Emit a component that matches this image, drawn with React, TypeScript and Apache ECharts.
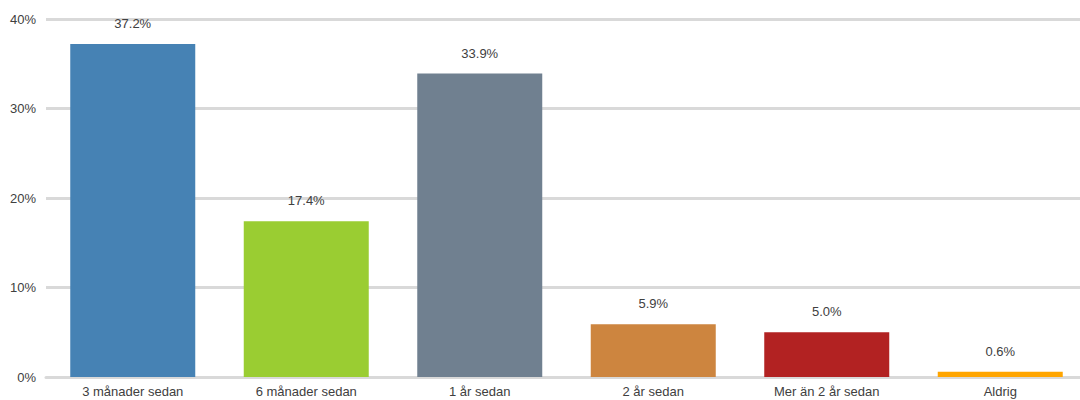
import React, { useEffect, useRef } from "react";
import * as echarts from "echarts";

const categories = ["3 månader sedan", "6 månader sedan", "1 år sedan", "2 år sedan", "Mer än 2 år sedan", "Aldrig"];
const values = [37.2, 17.4, 33.9, 5.9, 5.0, 0.6];
const colors = ["#4682B4", "#9ACD32", "#708090", "#CD853F", "#B22222", "#FFA500"];
const yTicks = [0, 10, 20, 30, 40];

export default function App() {
  const ref = useRef<HTMLDivElement>(null);
  useEffect(() => {
    if (!ref.current) return;
    const chart = echarts.init(ref.current, undefined, { renderer: "svg" });
    const font = "'Liberation Sans', Arial, sans-serif";
    chart.setOption({
      animation: false,
      grid: { left: 46, right: 3, top: 19, bottom: 23, containLabel: false },
      xAxis: {
        type: "category",
        data: categories,
        axisLine: { show: true, lineStyle: { color: "#d9d9d9", width: 3 } },
        axisTick: { show: false },
        axisLabel: { color: "#404040", fontSize: 13, fontFamily: font, margin: 8, interval: 0 },
      },
      yAxis: {
        type: "value",
        min: yTicks[0],
        max: yTicks[yTicks.length - 1],
        interval: 10,
        axisLine: { show: false },
        axisTick: { show: false },
        axisLabel: { color: "#404040", fontSize: 13, fontFamily: font, margin: 10, formatter: "{value}%" },
        splitLine: { lineStyle: { color: "#d9d9d9", width: 3 } },
      },
      series: [
        {
          type: "bar",
          barWidth: 125,
          data: values.map((v, i) => ({ value: v, itemStyle: { color: colors[i] } })),
          label: {
            show: true,
            position: "top",
            distance: 14,
            color: "#404040",
            fontSize: 13,
            fontFamily: font,
            formatter: (p: any) => p.value.toFixed(1) + "%",
          },
        },
      ],
    });
    return () => chart.dispose();
  }, []);
  return (
    <div style={{ position: "fixed", left: 0, top: 0, width: 1080, height: 400, overflow: "hidden", background: "#fff" }}>
      <div ref={ref} style={{ width: 1090, height: 400 }} />
    </div>
  );
}
